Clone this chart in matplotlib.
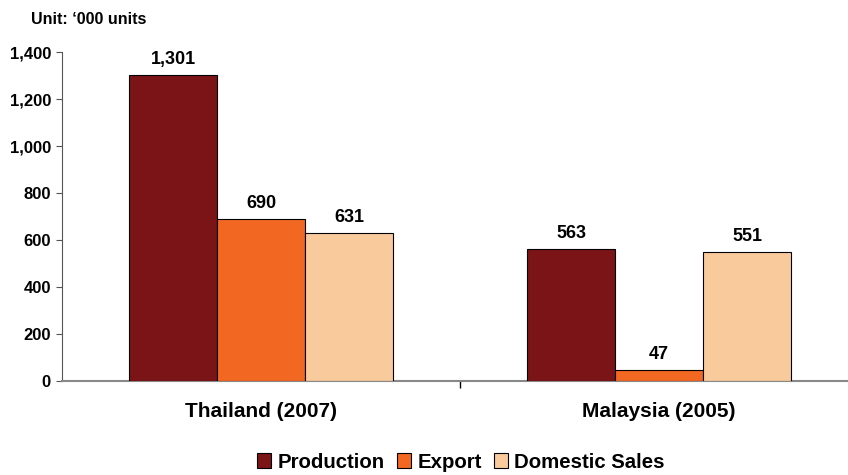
import matplotlib
matplotlib.use("Agg")
import matplotlib.pyplot as plt
import numpy as np

categories = ["Thailand (2007)", "Malaysia (2005)"]
series_names = ["Production", "Export", "Domestic Sales"]
production = [1301, 563]
export = [690, 47]
domestic = [631, 551]
yticks = [0, 200, 400, 600, 800, 1000, 1200, 1400]
colors = ["#7B1416", "#F26722", "#F9CB9C"]

plt.rcParams['font.family'] = ['Liberation Sans', 'DejaVu Sans']
plt.rcParams['font.weight'] = 'bold'

fig = plt.figure(figsize=(8.48, 4.75), dpi=100)
ax = fig.add_axes([62/848, 1-381/475, 796/848, (381-52)/475])

x = np.arange(len(categories))
w = 0.221
for i, (vals, name) in enumerate(zip([production, export, domestic], series_names)):
    pos = x + (i - 1) * w
    bars = ax.bar(pos, vals, w, color=colors[i], edgecolor='black', linewidth=0.8, label=name, zorder=3)
    for b, v in zip(bars, vals):
        ax.annotate(f"{v:,}", (b.get_x() + b.get_width()/2, v), xytext=(0, 5),
                    textcoords='offset points', ha='center', va='bottom',
                    fontsize=13, fontweight='bold')

ax.set_xlim(-0.5, 1.5)
ax.set_ylim(0, 1400)
ax.set_yticks(yticks)
ax.set_yticklabels([f"{t:,}" for t in yticks], fontsize=12, fontweight='bold')
ax.set_xticks(x)
ax.set_xticklabels(categories, fontsize=15, fontweight='bold')
ax.tick_params(axis='x', length=0, pad=15)
ax.set_xticks([0.5], minor=True)
ax.tick_params(axis='x', which='minor', length=5, color='black', width=1)
ax.tick_params(axis='y', length=4, color='#555555', pad=4)

for s in ['top', 'right']:
    ax.spines[s].set_visible(False)
ax.spines['left'].set_color('#555555')
ax.spines['bottom'].set_color('#888888')
ax.spines['bottom'].set_linewidth(1.5)

fig.text(31/848, 1-19/475, "Unit: \u2018000 units", fontsize=11.5, fontweight='bold', va='center')

leg = fig.legend(loc='center', bbox_to_anchor=(461/848, 1-462/475), ncol=3, frameon=False,
                 prop={'size': 14.7, 'weight': 'bold'}, handlelength=0.7, handleheight=0.7,
                 handletextpad=0.3, columnspacing=0.6)

fig.savefig("out.png", dpi=100)
